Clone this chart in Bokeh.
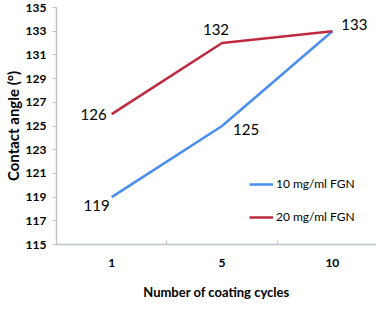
from bokeh.plotting import figure
from bokeh.models import Range1d, FixedTicker, ColumnDataSource, LabelSet, Legend, LegendItem
from bokeh.core.properties import value
from bokeh.embed import file_html
from bokeh.resources import INLINE

categories = ["1", "5", "10"]
series_10 = [119, 125, 133]
series_20 = [126, 132, 133]
series_names = ["10 mg/ml FGN", "20 mg/ml FGN"]
y_ticks = [115, 117, 119, 121, 123, 125, 127, 129, 131, 133, 135]

FONT = "Lato"
BLUE = "#4a8ef0"
RED = "#be2a40"
AXIS = "#bcc4cc"

xs = [i + 1 for i in range(len(categories))]

p = figure(width=376, height=302, output_backend="svg", toolbar_location=None,
           x_range=Range1d(0.5, 3.4), y_range=Range1d(115, 135),
           min_border_left=56, min_border_right=0, min_border_top=7, min_border_bottom=56)
p.outline_line_color = None
p.grid.visible = False

r1 = p.line(xs, series_10, line_color=BLUE, line_width=2.5)
r2 = p.line(xs, series_20, line_color=RED, line_width=2.5)

# axes
p.xaxis.ticker = FixedTicker(ticks=xs, minor_ticks=[x - 0.5 for x in xs] + [xs[-1] + 0.5])
p.xaxis.major_label_overrides = {x: c for x, c in zip(xs, categories)}
p.xaxis.major_tick_line_color = None
p.xaxis.major_tick_in = 0
p.xaxis.major_tick_out = 0
p.xaxis.minor_tick_in = 4
p.xaxis.minor_tick_out = 0
p.xaxis.minor_tick_line_color = AXIS
p.xaxis.axis_line_color = AXIS
p.xaxis.major_label_standoff = 14
p.xaxis.axis_label = "Number of coating cycles"
p.xaxis.axis_label_standoff = 14
p.xaxis.axis_label_text_font_size = "13px"

p.yaxis.ticker = FixedTicker(ticks=y_ticks)
p.yaxis.minor_tick_line_color = None
p.yaxis.major_tick_in = 0
p.yaxis.major_tick_out = 4
p.yaxis.major_tick_line_color = AXIS
p.yaxis.axis_line_color = AXIS
p.yaxis.major_label_standoff = 6
p.yaxis.axis_label = "Contact angle (°)"
p.yaxis.axis_label_standoff = 1
p.yaxis.axis_label_text_font_size = "15px"

for ax in (p.xaxis, p.yaxis):
    ax.major_label_text_font = FONT
    ax.major_label_text_font_style = "bold"
    ax.major_label_text_font_size = "12px"
    ax.major_label_text_color = "#000000"
    ax.axis_label_text_font = FONT
    ax.axis_label_text_font_style = "bold"
    ax.axis_label_text_color = "#000000"
    ax.axis_line_width = 1.5

# data labels (the shared end value 133 is labelled once)
lab_x = [xs[0], xs[1], xs[0], xs[1], xs[2]]
lab_y = [series_10[0], series_10[1], series_20[0], series_20[1], series_20[2]]
lab_t = [str(v) for v in lab_y]
lab_dx = [-2, 11, -5, -6, 9]
lab_dy = [-3, -3, 0, 8, 1]
lab_align = ["right", "left", "right", "center", "left"]
lab_base = ["top", "middle", "middle", "bottom", "bottom"]
src = ColumnDataSource(dict(x=lab_x, y=lab_y, t=lab_t, dx=lab_dx, dy=lab_dy,
                            al=lab_align, bl=lab_base))
p.add_layout(LabelSet(x="x", y="y", text="t", source=src, x_offset="dx", y_offset="dy",
                      text_align="al", text_baseline="bl", text_font=value(FONT),
                      text_font_size="15px", text_color="#000000"))

legend = Legend(items=[LegendItem(label=series_names[0], renderers=[r1]),
                       LegendItem(label=series_names[1], renderers=[r2])],
                location=(193, 20), orientation="vertical",
                glyph_width=24, glyph_height=14, label_height=14, spacing=18,
                label_standoff=3, padding=0, margin=0,
                border_line_color=None, background_fill_alpha=0,
                label_text_font=FONT, label_text_font_size="12px", label_text_color="#000000")
p.add_layout(legend)

open("out.html", "w").write(file_html(p, INLINE))
